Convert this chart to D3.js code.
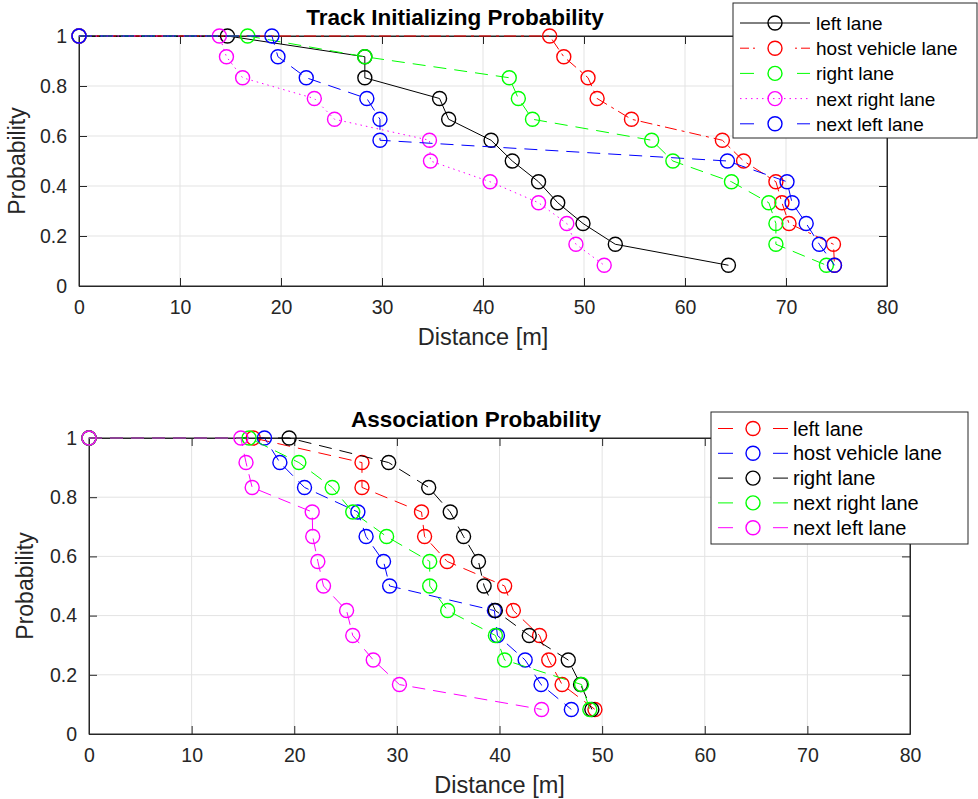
<!DOCTYPE html>
<html>
<head>
<meta charset="utf-8">
<script src="https://cdn.jsdelivr.net/npm/d3@7"></script>
<style>
  body { margin: 0; background: #fff; }
  svg { display: block; font-family: "Liberation Sans", Arial, sans-serif; }
</style>
</head>
<body>
<script>
// Probability levels shared by every series (first point sits at distance 0)
var probLevels = [1, 1, 0.917, 0.833, 0.75, 0.667, 0.583, 0.5, 0.417, 0.333, 0.25, 0.167, 0.083];

// Top panel: Track Initializing Probability, distances [m]
var trackLeft = [0, 14.7, 28.3, 28.3, 35.7, 36.6, 40.8, 42.9, 45.5, 47.4, 49.9, 53.1, 64.3];
var trackHost = [0, 46.6, 48.0, 50.4, 51.3, 54.7, 63.7, 65.8, 69.0, 69.6, 70.3, 74.7, 74.8];
var trackRight = [0, 16.7, 28.3, 42.6, 43.5, 44.9, 56.7, 58.8, 64.6, 68.3, 69.0, 69.0, 74.0];
var trackNextRight = [0, 13.9, 14.6, 16.2, 23.3, 25.3, 34.7, 34.8, 40.7, 45.5, 48.3, 49.2, 52.0];
var trackNextLeft = [0, 19.1, 19.7, 22.5, 28.5, 29.8, 29.8, 64.2, 70.1, 70.6, 72.0, 73.3, 74.8];

// Bottom panel: Association Probability, distances [m]
var assocLeft = [0, 16.0, 26.6, 26.6, 32.4, 32.7, 34.9, 40.5, 41.35, 43.9, 44.8, 46.1, 49.3];
var assocHost = [0, 17.1, 18.6, 21.0, 26.2, 27.0, 28.7, 29.3, 39.5, 39.8, 42.5, 44.05, 47.0];
var assocRight = [0, 19.5, 29.2, 33.1, 35.2, 36.5, 37.95, 38.5, 39.6, 42.9, 46.7, 47.9, 49.0];
var assocNextRight = [0, 15.6, 20.45, 23.7, 25.7, 29.0, 33.2, 33.2, 34.95, 39.6, 40.5, 48.0, 48.8];
var assocNextLeft = [0, 14.8, 15.3, 15.9, 21.75, 21.8, 22.3, 22.85, 25.1, 25.7, 27.7, 30.25, 44.1];

var laneNames = ["left lane", "host vehicle lane", "right lane", "next right lane", "next left lane"];

var xTicks = [0, 10, 20, 30, 40, 50, 60, 70, 80];
var yTicks = [0, 0.2, 0.4, 0.6, 0.8, 1];

var svg = d3.select("body").append("svg")
  .attr("width", 978)
  .attr("height", 799);

svg.append("rect").attr("width", 978).attr("height", 799).attr("fill", "#fff");

var axisColor = "#262626";

function drawPanel(cfg) {
  var x = d3.scaleLinear().domain([0, 80]).range([cfg.left, cfg.right]);
  var y = d3.scaleLinear().domain([0, 1]).range([cfg.bottom, cfg.top]);
  var g = svg.append("g");

  // grid
  g.selectAll(".gx").data(xTicks.slice(1, -1)).enter().append("line")
    .attr("x1", d => x(d)).attr("x2", d => x(d))
    .attr("y1", cfg.top).attr("y2", cfg.bottom)
    .attr("stroke", "#e3e3e3").attr("stroke-width", 1);
  g.selectAll(".gy").data(yTicks.slice(1, -1)).enter().append("line")
    .attr("y1", d => y(d)).attr("y2", d => y(d))
    .attr("x1", cfg.left).attr("x2", cfg.right)
    .attr("stroke", "#e3e3e3").attr("stroke-width", 1);

  // box
  g.append("rect")
    .attr("x", cfg.left).attr("y", cfg.top)
    .attr("width", cfg.right - cfg.left).attr("height", cfg.bottom - cfg.top)
    .attr("fill", "none").attr("stroke", axisColor).attr("stroke-width", 1);

  // axes (ticks inward, MATLAB style)
  var bottomAxis = d3.axisBottom(x).tickValues(xTicks).tickSizeInner(-8).tickSizeOuter(0).tickPadding(14);
  var leftAxis = d3.axisLeft(y).tickValues(yTicks).tickSizeInner(-8).tickSizeOuter(0).tickPadding(12)
    .tickFormat(d3.format("~g"));
  var topAxis = d3.axisTop(x).tickValues(xTicks).tickSizeInner(-8).tickSizeOuter(0).tickFormat("");
  var rightAxis = d3.axisRight(y).tickValues(yTicks).tickSizeInner(-8).tickSizeOuter(0).tickFormat("");

  [[bottomAxis, `translate(0,${cfg.bottom})`], [leftAxis, `translate(${cfg.left},0)`],
   [topAxis, `translate(0,${cfg.top})`], [rightAxis, `translate(${cfg.right},0)`]].forEach(function(a) {
    var ag = g.append("g").attr("transform", a[1]).call(a[0]);
    ag.select(".domain").attr("stroke", axisColor);
    ag.selectAll(".tick line").attr("stroke", axisColor);
    ag.selectAll("text").attr("fill", axisColor).style("font-size", "19.5px")
      .style("font-family", "'Liberation Sans', Arial, sans-serif");
  });

  // series
  cfg.series.forEach(function(s) {
    var pts = s.values.map((v, i) => [v, probLevels[i]]);
    var line = d3.line().x(d => x(d[0])).y(d => y(d[1]));
    g.append("path")
      .attr("d", line(pts))
      .attr("fill", "none")
      .attr("stroke", s.color)
      .attr("stroke-width", 1)
      .attr("stroke-dasharray", s.dash);
    g.selectAll(null).data(pts).enter().append("circle")
      .attr("cx", d => x(d[0])).attr("cy", d => y(d[1]))
      .attr("r", 7)
      .attr("fill", "none")
      .attr("stroke", s.color)
      .attr("stroke-width", 1.4);
  });

  // title & labels
  svg.append("text")
    .attr("x", cfg.titleX).attr("y", cfg.titleY)
    .attr("text-anchor", "middle")
    .style("font-size", "22.5px").style("font-weight", "bold")
    .attr("fill", "#000")
    .text(cfg.title);
  svg.append("text")
    .attr("x", (cfg.left + cfg.right) / 2).attr("y", cfg.bottom + 59)
    .attr("text-anchor", "middle")
    .style("font-size", "23.5px").attr("fill", axisColor)
    .text("Distance [m]");
  svg.append("text")
    .attr("transform", `translate(${cfg.ylabelX},${(cfg.top + cfg.bottom) / 2}) rotate(-90)`)
    .attr("text-anchor", "middle")
    .style("font-size", "23px").attr("fill", axisColor)
    .text("Probability");

  // legend
  var L = cfg.legend;
  var lg = svg.append("g");
  lg.append("rect")
    .attr("x", L.x).attr("y", L.y)
    .attr("width", L.w).attr("height", L.h)
    .attr("fill", "#fff").attr("stroke", axisColor).attr("stroke-width", 1);
  cfg.series.forEach(function(s, i) {
    var ly = L.y + L.first + i * L.step;
    var lx = L.x + 7;
    lg.append("line")
      .attr("x1", lx).attr("x2", lx + 70).attr("y1", ly).attr("y2", ly)
      .attr("stroke", s.color).attr("stroke-width", 1)
      .attr("stroke-dasharray", s.legendDash);
    lg.append("circle")
      .attr("cx", lx + 35).attr("cy", ly).attr("r", 7)
      .attr("fill", "none").attr("stroke", s.color).attr("stroke-width", 1.4);
    lg.append("text")
      .attr("x", lx + L.textDx).attr("y", ly + 7)
      .style("font-size", L.font).attr("fill", "#000")
      .text(laneNames[i]);
  });
}

var dashed = "13,8";

drawPanel({
  title: "Track Initializing Probability",
  titleX: 455, titleY: 25,
  left: 79, right: 887, top: 36, bottom: 286, ylabelX: 25,
  legend: { x: 733, y: 3, w: 244, h: 135, first: 20, step: 25.2, textDx: 76, font: "19px" },
  series: [
    { values: trackLeft, color: "#000000", dash: null, legendDash: null },
    { values: trackHost, color: "#ff0000", dash: "12,5,3,5", legendDash: "9,4,2,40,2,4,9" },
    { values: trackRight, color: "#00ff00", dash: dashed, legendDash: "14,43,13" },
    { values: trackNextRight, color: "#ff00ff", dash: "1.5,4", legendDash: "1.5,4" },
    { values: trackNextLeft, color: "#0000ff", dash: dashed, legendDash: "14,43,13" }
  ]
});

drawPanel({
  title: "Association Probability",
  titleX: 476, titleY: 427,
  left: 89, right: 910, top: 438, bottom: 734, ylabelX: 33,
  legend: { x: 711, y: 412, w: 257, h: 132, first: 16.5, step: 24.8, textDx: 75, font: "20px" },
  series: [
    { values: assocLeft, color: "#ff0000", dash: dashed, legendDash: "15,40,15" },
    { values: assocHost, color: "#0000ff", dash: dashed, legendDash: "15,40,15" },
    { values: assocRight, color: "#000000", dash: dashed, legendDash: "15,40,15" },
    { values: assocNextRight, color: "#00ff00", dash: dashed, legendDash: "15,40,15" },
    { values: assocNextLeft, color: "#ff00ff", dash: dashed, legendDash: "15,40,15" }
  ]
});
</script>
</body>
</html>
